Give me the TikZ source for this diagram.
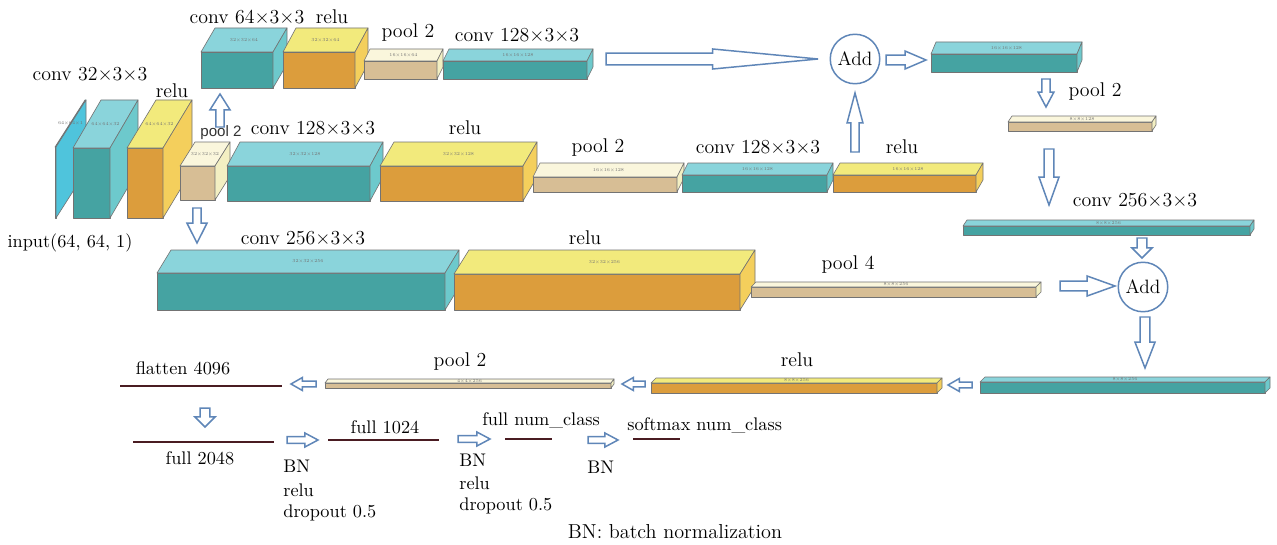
\documentclass[tikz,border=0pt]{standalone}
\usepackage{fontspec}
\usetikzlibrary{calc}
\newfontfamily\labelsans{Liberation Sans}
\definecolor{convF}{HTML}{45A3A2}
\definecolor{convT}{HTML}{8AD4DB}
\definecolor{convS}{HTML}{6DC9CC}
\definecolor{reluF}{HTML}{DC9D3C}
\definecolor{reluT}{HTML}{F2EA7C}
\definecolor{reluS}{HTML}{F4CF5C}
\definecolor{poolF}{HTML}{D7BE95}
\definecolor{poolT}{HTML}{FAF6DC}
\definecolor{poolS}{HTML}{F3EFC2}
\definecolor{inpF}{HTML}{4FC4DC}
\definecolor{inpT}{HTML}{4FC4DC}
\definecolor{inpS}{HTML}{4FC4DC}
\definecolor{arrowblue}{HTML}{5F86B8}
\definecolor{fcred}{HTML}{4A1C22}
\tikzset{
  face/.style   ={draw=black!55, line width=0.35pt, line join=round},
  hollow/.style ={draw=arrowblue, line width=0.85pt, fill=white, line join=miter},
  lbl/.style    ={font=\fontsize{11.3}{13}\selectfont, inner sep=0pt},
  slbl/.style   ={font=\fontsize{10.4}{12}\selectfont, inner sep=0pt},
  bnlbl/.style  ={slbl, anchor=west},
  dimtxt/.style ={font=\fontsize{2.6}{3}\selectfont, text=black!55, inner sep=0pt},
  addc/.style   ={draw=arrowblue, circle, line width=0.85pt, minimum size=0.99cm, inner sep=0pt, font=\fontsize{11}{13}\selectfont},
  fcline/.style ={draw=fcred, line width=1.1pt},
}
% box: name, x1, y1, x2, y2 (front face), depth dx, dy, kind, size text
\newcommand{\blk}[9]{%
  \draw[face, fill=#8F] (#2,#3) rectangle (#4,#5);
  \draw[face, fill=#8T] (#2,#3) -- ($(#2,#3)+(#6,-#7)$) -- ($(#4,#3)+(#6,-#7)$) -- (#4,#3) -- cycle;
  \draw[face, fill=#8S] (#4,#3) -- ($(#4,#3)+(#6,-#7)$) -- ($(#4,#5)+(#6,-#7)$) -- (#4,#5) -- cycle;
  \node[dimtxt] (#1) at ($(#2,#3)!0.5!(#4,#3)+(0.5*#6,-0.5*#7)$) {#9};
}
% hollow arrow: from, to, shaft half width, head half width, head length
\newcommand{\harr}[5]{%
  \path ($(#2)!#5!(#1)$) coordinate (hm);
  \draw[hollow] ($(#1)!#3!90:(#2)$) -- ($(hm)!#3!-90:(#1)$) -- ($(hm)!#4!-90:(#1)$) -- (#2)
    -- ($(hm)!#4!90:(#1)$) -- ($(hm)!#3!90:(#1)$) -- ($(#1)!#3!-90:(#2)$) -- cycle;
}

\begin{document}
\begin{tikzpicture}[x=0.02cm, y=-0.02cm]
  \useasboundingbox[fill=white] (0,0) rectangle (1277,544);

  % left stack
  \blk{inp}{55}{147}{56}{218}{30}{47}{inp}{64×64×1}
  \blk{conv32}{73}{148}{110}{218}{28}{48}{conv}{64×64×32}
  \blk{relu32}{127}{148}{163}{218}{29}{48}{relu}{64×64×32}
  \blk{pool32}{180}{166}{215}{200}{15}{24}{pool}{32×32×32}
  % top row
  \blk{conv64}{201}{52}{273}{88}{14}{24}{conv}{32×32×64}
  \blk{relu64}{283}{52}{355}{88}{13}{24}{relu}{32×32×64}
  \blk{pool64}{364}{61}{437}{79}{6}{12}{pool}{16×16×64}
  \blk{conv128t}{443}{61}{587}{79}{6}{12}{conv}{16×16×128}
  % middle row
  \blk{conv128a}{227}{166}{370}{201}{13}{24}{conv}{32×32×128}
  \blk{relu128a}{380}{166}{523}{201}{14}{24}{relu}{32×32×128}
  \blk{pool128}{533}{177}{677}{192}{7}{14}{pool}{16×16×128}
  \blk{conv128b}{682}{175}{827}{192}{6}{12}{conv}{16×16×128}
  \blk{relu128b}{833}{175}{976}{192}{7}{12}{relu}{16×16×128}
  % right column
  \blk{sum128}{931}{54}{1077}{72}{5}{12}{conv}{16×16×128}
  \blk{pool8}{1008}{122}{1152}{131}{4}{6}{pool}{8×8×128}
  \blk{conv256r}{963}{226}{1250}{235}{4}{6}{conv}{8×8×256}
  % lower row
  \blk{conv256}{157}{273}{445}{310}{14}{23}{conv}{32×32×256}
  \blk{relu256}{454}{274}{740}{310}{15}{24}{relu}{32×32×256}
  \blk{pool4}{751}{287}{1036}{297}{5}{5}{pool}{8×8×256}
  % bottom row
  \blk{convB}{980}{382}{1265}{393}{5}{5}{conv}{8×8×256}
  \blk{reluB}{651}{383}{937}{393}{5}{5}{relu}{8×8×256}
  \blk{poolB}{325}{383}{611}{388}{3}{4}{pool}{4×4×256}

  \node[addc] (add1) at (855,59) {Add};
  \node[addc] (add2) at (1143,287) {Add};

  % labels
  \node[lbl] (t-conv32) at (90,74) {conv 32×3×3};
  \node[lbl] (t-relu32) at (172,91) {relu};
  \node[lbl] (t-conv64) at (247,17) {conv 64×3×3};
  \node[lbl] (t-relu64) at (332,17) {relu};
  \node[lbl] (t-pool64) at (408,33) {pool 2};
  \node[lbl] (t-conv128t) at (517,35) {conv 128×3×3};
  \node[lbl] (t-conv128a) at (313,128) {conv 128×3×3};
  \node[lbl] (t-relu128a) at (465,128) {relu};
  \node[lbl] (t-pool128) at (598,148) {pool 2};
  \node[lbl] (t-conv128b) at (758,147) {conv 128×3×3};
  \node[lbl] (t-relu128b) at (902,147) {relu};
  \node[lbl] (t-pool8) at (1095,92) {pool 2};
  \node[lbl] (t-conv256r) at (1135,200) {conv 256×3×3};
  \node[slbl] (t-inp) at (70,243) {input(64, 64, 1)};
  \node[lbl] (t-conv256) at (303,238) {conv 256×3×3};
  \node[lbl] (t-relu256) at (585,238) {relu};
  \node[lbl] (t-pool4) at (848,265) {pool 4};
  \node[lbl] (t-reluB) at (797,360) {relu};
  \node[lbl] (t-poolB) at (460,362) {pool 2};

  % arrows
  \coordinate (u1a) at (220,127); \coordinate (u1b) at (220,94);
  \harr{u1a}{u1b}{2.3pt}{5.7pt}{9pt}
  \node[font=\labelsans\fontsize{8.6}{10}\selectfont, text=black!80, inner sep=0pt] (t-pool32) at (221,133) {pool 2};
  \coordinate (d1a) at (197,208); \coordinate (d1b) at (197,243);
  \harr{d1a}{d1b}{2.3pt}{5.7pt}{11.3pt}
  \coordinate (r1a) at (606,59); \coordinate (r1b) at (818,59);
  \harr{r1a}{r1b}{3.4pt}{5.7pt}{60pt}
  \coordinate (r2a) at (886,60); \coordinate (r2b) at (926,60);
  \harr{r2a}{r2b}{2.8pt}{5.1pt}{11.9pt}
  \coordinate (u2a) at (855,152); \coordinate (u2b) at (855,93);
  \harr{u2a}{u2b}{2.3pt}{4.5pt}{17pt}
  \coordinate (d2a) at (1046,79); \coordinate (d2b) at (1046,107);
  \harr{d2a}{d2b}{2.3pt}{4.5pt}{8.5pt}
  \coordinate (d3a) at (1049,149); \coordinate (d3b) at (1049,205);
  \harr{d3a}{d3b}{2.8pt}{5.7pt}{15.9pt}
  \coordinate (d4a) at (1142,238); \coordinate (d4b) at (1142,258);
  \harr{d4a}{d4b}{2.8pt}{5.7pt}{5.7pt}
  \coordinate (r3a) at (1060,286); \coordinate (r3b) at (1115,286);
  \harr{r3a}{r3b}{2.8pt}{5.7pt}{15.9pt}
  \coordinate (d5a) at (1145,317); \coordinate (d5b) at (1145,368);
  \harr{d5a}{d5b}{2.8pt}{5.7pt}{14.7pt}
  \coordinate (l1a) at (972,385); \coordinate (l1b) at (948,385);
  \harr{l1a}{l1b}{1.7pt}{3.7pt}{6.5pt}
  \coordinate (l2a) at (645,384); \coordinate (l2b) at (622,384);
  \harr{l2a}{l2b}{1.7pt}{3.7pt}{6.5pt}
  \coordinate (l3a) at (316,384); \coordinate (l3b) at (291,384);
  \harr{l3a}{l3b}{1.7pt}{3.7pt}{6.5pt}
  \coordinate (d6a) at (205,408); \coordinate (d6b) at (205,427);
  \harr{d6a}{d6b}{2.8pt}{5.7pt}{5.7pt}
  \coordinate (r4a) at (287,440); \coordinate (r4b) at (318,440);
  \harr{r4a}{r4b}{1.9pt}{4pt}{7.5pt}
  \coordinate (r5a) at (458,439); \coordinate (r5b) at (490,439);
  \harr{r5a}{r5b}{1.9pt}{4pt}{7.5pt}
  \coordinate (r6a) at (588,440); \coordinate (r6b) at (618,440);
  \harr{r6a}{r6b}{1.9pt}{4pt}{7.5pt}

  % fully connected part
  \coordinate (fl-a) at (120,386); \coordinate (fl-b) at (282,386);
  \draw[fcline] (fl-a) -- (fl-b);
  \coordinate (f2-a) at (133,442); \coordinate (f2-b) at (274,442);
  \draw[fcline] (f2-a) -- (f2-b);
  \coordinate (f1-a) at (328,440); \coordinate (f1-b) at (439,440);
  \draw[fcline] (f1-a) -- (f1-b);
  \coordinate (fn-a) at (505,439); \coordinate (fn-b) at (552,439);
  \draw[fcline] (fn-a) -- (fn-b);
  \coordinate (sm-a) at (633,439); \coordinate (sm-b) at (680,439);
  \draw[fcline] (sm-a) -- (sm-b);

  \node[slbl] (t-flat) at (183,368) {flatten 4096};
  \node[slbl] (t-f2048) at (200,458) {full 2048};
  \node[slbl] (t-f1024) at (385,427) {full 1024};
  \node[bnlbl] (t-fnum) at (482,420) {full num\_class};
  \node[bnlbl] (t-soft) at (627,425) {softmax num\_class};
  \node[bnlbl] (bn1) at (283,466) {BN};
  \node[bnlbl] (relu1) at (283,490) {relu};
  \node[bnlbl] (drop1) at (283,513) {dropout 0.5};
  \node[bnlbl] (bn2) at (459,460) {BN};
  \node[bnlbl] (relu2) at (459,483) {relu};
  \node[bnlbl] (drop2) at (459,506) {dropout 0.5};
  \node[bnlbl] (bn3) at (587,467) {BN};
  \node[font=\fontsize{11.5}{13}\selectfont, inner sep=0pt] (caption) at (675,532) {BN: batch normalization};
\end{tikzpicture}
\end{document}
